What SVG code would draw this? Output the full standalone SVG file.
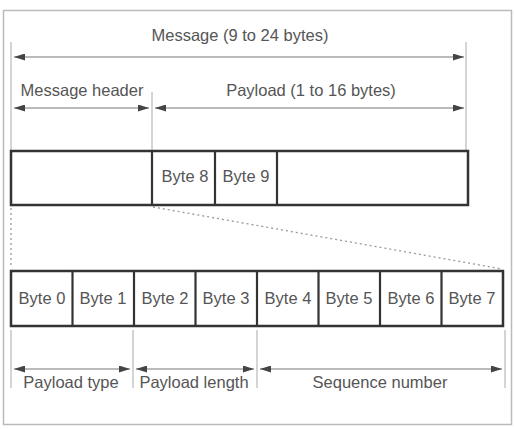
<svg xmlns="http://www.w3.org/2000/svg" width="514" height="429" viewBox="0 0 514 429">
<defs>
<marker id="ah" viewBox="0 0 11 7" refX="11" refY="3.5" markerWidth="11" markerHeight="7" markerUnits="userSpaceOnUse" orient="auto-start-reverse">
<path d="M0,0 L11,3.5 L0,7 Z" fill="#444"/>
</marker>
</defs>
<style>
text{font-family:"Liberation Sans",Arial,sans-serif;font-size:16.5px;fill:#555;text-anchor:middle}
.dim{stroke:#777;stroke-width:1.2;fill:none;marker-start:url(#ah);marker-end:url(#ah)}
.tick{stroke:#aaa;stroke-width:1;fill:none}
.box{stroke:#333;stroke-width:2.5;fill:#fff}
.div{stroke:#333;stroke-width:2.2}
.dot{stroke:#999;stroke-width:1.3;stroke-dasharray:2 3;fill:none}
</style>
<rect x="3.5" y="10.5" width="508" height="414" fill="#fff" stroke="#bbb" stroke-width="1.5"/>
<g id="connectors">
<line class="tick" x1="11" y1="42" x2="11" y2="150"/>
<line class="tick" x1="466" y1="42" x2="466" y2="150"/>
<line class="tick" x1="152" y1="92" x2="152" y2="150"/>
<line class="dim" x1="14" y1="57" x2="464" y2="57"/>
<line class="dim" x1="14" y1="108" x2="149" y2="108"/>
<line class="dim" x1="155" y1="108" x2="464" y2="108"/>
<line class="dot" x1="11" y1="208" x2="11" y2="268"/>
<line class="dot" x1="153" y1="207" x2="502" y2="269"/>
<line class="tick" x1="11" y1="330" x2="11" y2="388"/>
<line class="tick" x1="133" y1="330" x2="133" y2="388"/>
<line class="tick" x1="257" y1="330" x2="257" y2="388"/>
<line class="tick" x1="505" y1="330" x2="505" y2="388"/>
<line class="dim" x1="14" y1="369" x2="130" y2="369"/>
<line class="dim" x1="136" y1="369" x2="254" y2="369"/>
<line class="dim" x1="260" y1="369" x2="502" y2="369"/>
</g>
<g id="labels-top">
<text x="240" y="41">Message (9 to 24 bytes)</text>
<text x="82" y="96">Message header</text>
<text x="311" y="96">Payload (1 to 16 bytes)</text>
</g>
<g id="message">
<rect class="box" x="11" y="151" width="457" height="54"/>
<line class="div" x1="152" y1="151" x2="152" y2="205"/>
<line class="div" x1="215" y1="151" x2="215" y2="205"/>
<line class="div" x1="277" y1="151" x2="277" y2="205"/>
<text x="185" y="182">Byte 8</text>
<text x="246" y="182">Byte 9</text>
</g>
<g id="header">
<rect class="box" x="11" y="271" width="492" height="55"/>
<line class="div" x1="72.5" y1="271" x2="72.5" y2="326"/>
<line class="div" x1="134" y1="271" x2="134" y2="326"/>
<line class="div" x1="195.5" y1="271" x2="195.5" y2="326"/>
<line class="div" x1="257" y1="271" x2="257" y2="326"/>
<line class="div" x1="318.5" y1="271" x2="318.5" y2="326"/>
<line class="div" x1="380" y1="271" x2="380" y2="326"/>
<line class="div" x1="441.5" y1="271" x2="441.5" y2="326"/>
<text x="42" y="304">Byte 0</text>
<text x="103" y="304">Byte 1</text>
<text x="165" y="304">Byte 2</text>
<text x="226" y="304">Byte 3</text>
<text x="288" y="304">Byte 4</text>
<text x="349" y="304">Byte 5</text>
<text x="411" y="304">Byte 6</text>
<text x="472" y="304">Byte 7</text>
</g>
<g id="labels-bottom">
<text x="71" y="388">Payload type</text>
<text x="194" y="388">Payload length</text>
<text x="380" y="388">Sequence number</text>
</g>
</svg>
